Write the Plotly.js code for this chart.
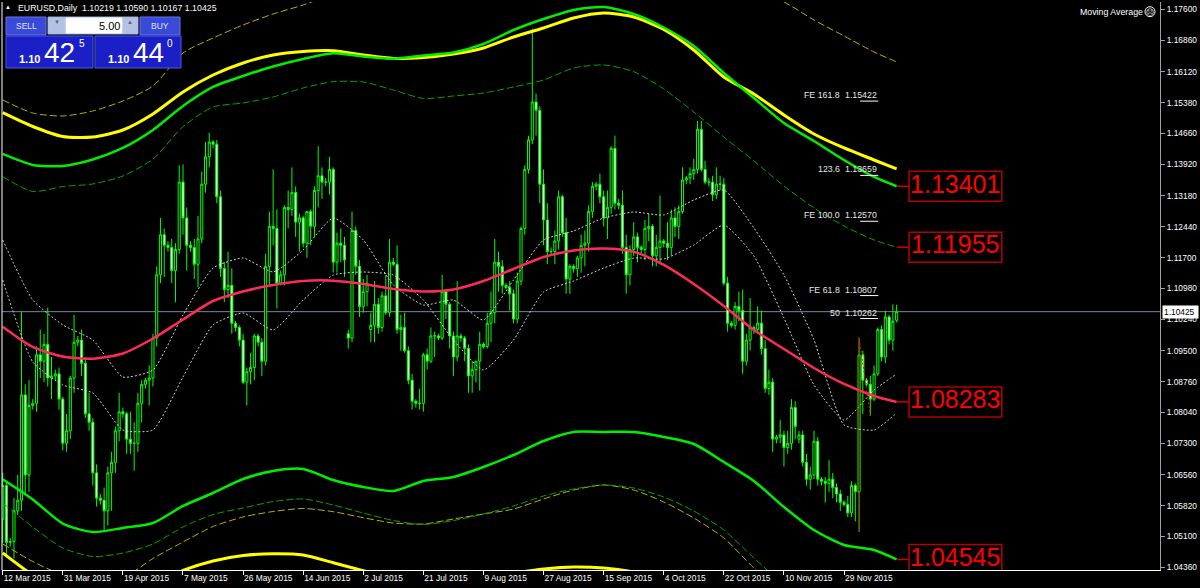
<!DOCTYPE html>
<html><head><meta charset="utf-8">
<script src="https://cdn.plot.ly/plotly-3.0.1.min.js"></script>
<style>html,body{margin:0;padding:0;background:#000;}#chart{width:1200px;height:588px;}</style>
</head><body><div id="chart"></div>
<script>
// ---------------- DATA ----------------
const symbolTitle = "EURUSD,Daily";
const headerOHLC = [1.10219, 1.10590, 1.10167, 1.10425];
const lastPrice = 1.10425;
const tickBars = [0,16,32,48,64,80,96,112,128,144,160,176,192,208,224];
const tickLabels = ["12 Mar 2015","31 Mar 2015","19 Apr 2015","7 May 2015","26 May 2015","14 Jun 2015","2 Jul 2015","21 Jul 2015","9 Aug 2015","27 Aug 2015","15 Sep 2015","4 Oct 2015","22 Oct 2015","10 Nov 2015","29 Nov 2015"];
const priceTicks = [1.17600,1.16860,1.16120,1.15380,1.14660,1.13920,1.13180,1.12440,1.11700,1.10980,1.10240,1.09500,1.08760,1.08040,1.07300,1.06560,1.05820,1.05100,1.04360];

const openP = [
1.0550,1.0630,1.0495,1.0497,1.0570,1.0595,1.0845,1.0655,1.0820,1.0825,
1.0940,1.0925,1.0965,1.0885,1.0890,1.0895,1.0835,1.0730,1.0760,1.0885,
1.0970,1.0975,1.0920,1.0800,1.0780,1.0660,1.0600,1.0595,1.0570,1.0660,
1.0685,1.0760,1.0805,1.0800,1.0740,1.0730,1.0730,1.0825,1.0870,1.0880,
1.0885,1.0980,1.1130,1.1225,1.1200,1.1195,1.1140,1.1190,1.1350,1.1265,
1.1200,1.1195,1.1155,1.1215,1.1345,1.1410,1.1445,1.1440,1.1315,1.1145,
1.1095,1.1105,1.1015,1.1005,1.0975,1.0875,1.0900,1.0910,1.0985,1.0970,
1.0925,1.1150,1.1245,1.1240,1.1110,1.1130,1.1290,1.1285,1.1325,1.1255,
1.1265,1.1205,1.1280,1.1245,1.1330,1.1365,1.1350,1.1350,1.1380,1.1160,
1.1205,1.1200,1.0990,1.0980,1.1235,1.1150,1.1055,1.1090,1.1000,1.1010,
1.1060,1.1005,1.1080,1.1040,1.1160,1.1155,1.1000,1.1005,1.0950,1.0880,
1.0830,1.0825,1.0825,1.0940,1.0925,1.0985,1.0985,1.0980,1.1090,1.1060,
1.0985,1.0935,1.0985,1.0980,1.0955,1.0890,1.0905,1.0925,1.0965,1.0960,
1.1015,1.1040,1.1160,1.1150,1.1105,1.1100,1.1085,1.1025,1.1115,1.1240,
1.1380,1.1450,1.1540,1.1520,1.1345,1.1260,1.1185,1.1185,1.1210,1.1315,
1.1230,1.1120,1.1150,1.1145,1.1170,1.1200,1.1205,1.1280,1.1340,1.1345,
1.1315,1.1265,1.1290,1.1430,1.1300,1.1295,1.1195,1.1130,1.1190,1.1220,
1.1195,1.1190,1.1240,1.1245,1.1175,1.1195,1.1210,1.1205,1.1195,1.1265,
1.1245,1.1280,1.1355,1.1360,1.1370,1.1380,1.1475,1.1380,1.1350,1.1350,
1.1320,1.1345,1.1345,1.1110,1.1015,1.1010,1.1055,1.1045,1.0925,1.0975,
1.1005,1.1000,1.1015,1.0955,1.0860,1.0875,1.0740,1.0745,1.0750,1.0720,
1.0730,1.0815,1.0740,1.0750,1.0685,1.0645,1.0655,1.0735,1.0645,1.0640,
1.0635,1.0645,1.0625,1.0610,1.0590,1.0585,1.0565,1.0630,1.0615,1.0940,
1.0880,1.0870,1.0835,1.0895,1.1000,1.0935,1.1030,1.0975,1.10219];
const highP = [
1.0660,1.0640,1.0505,1.0600,1.0655,1.1043,1.0870,1.0880,1.0835,1.0960,
1.1000,1.0990,1.1052,1.0935,1.0905,1.0910,1.0840,1.0800,1.0890,1.1035,
1.0985,1.1000,1.0935,1.0850,1.0790,1.0680,1.0610,1.0625,1.0675,1.0710,
1.0770,1.0850,1.0815,1.0805,1.0805,1.0780,1.0850,1.0880,1.0885,1.0915,
1.0990,1.1150,1.1265,1.1240,1.1210,1.1215,1.1205,1.1390,1.1392,1.1290,
1.1210,1.1215,1.1270,1.1375,1.1445,1.1467,1.1450,1.1450,1.1330,1.1160,
1.1185,1.1145,1.1020,1.1010,1.0990,1.0910,1.0945,1.0990,1.0990,1.0980,
1.1180,1.1280,1.1380,1.1285,1.1140,1.1295,1.1330,1.1385,1.1340,1.1275,
1.1270,1.1280,1.1285,1.1340,1.1435,1.1385,1.1360,1.1410,1.1385,1.1230,
1.1240,1.1220,1.1000,1.1280,1.1245,1.1165,1.1120,1.1130,1.1040,1.1115,
1.1075,1.1090,1.1130,1.1215,1.1170,1.1200,1.1035,1.1040,1.0960,1.0895,
1.0835,1.0860,1.0945,1.0955,1.1005,1.0995,1.0990,1.1130,1.1095,1.1065,
1.0995,1.1115,1.0990,1.0985,1.0965,1.0925,1.0925,1.0995,1.0970,1.1040,
1.1090,1.1215,1.1185,1.1165,1.1110,1.1115,1.1095,1.1135,1.1245,1.1390,
1.1460,1.1714,1.1560,1.1530,1.1380,1.1300,1.1195,1.1235,1.1330,1.1320,
1.1265,1.1155,1.1155,1.1175,1.1225,1.1235,1.1295,1.1350,1.1350,1.1370,
1.1330,1.1330,1.1435,1.1460,1.1310,1.1330,1.1225,1.1200,1.1255,1.1230,
1.1200,1.1260,1.1275,1.1250,1.1225,1.1318,1.1215,1.1255,1.1285,1.1290,
1.1295,1.1385,1.1365,1.1385,1.1405,1.1495,1.1495,1.1400,1.1360,1.1365,
1.1385,1.1365,1.1360,1.1125,1.1020,1.1065,1.1090,1.1095,1.0990,1.1075,
1.1010,1.1055,1.1045,1.0975,1.0905,1.0885,1.0750,1.0785,1.0760,1.0760,
1.0835,1.0830,1.0760,1.0760,1.0705,1.0675,1.0760,1.0745,1.0650,1.0650,
1.0690,1.0660,1.0635,1.0620,1.0595,1.0605,1.0640,1.0635,1.0981,1.0950,
1.0885,1.0890,1.0915,1.1005,1.1010,1.1045,1.1035,1.1060,1.10590];
const lowP = [
1.0494,1.0462,1.0485,1.0457,1.0560,1.0570,1.0610,1.0615,1.0810,1.0805,
1.0885,1.0875,1.0865,1.0835,1.0880,1.0810,1.0713,1.0710,1.0740,1.0850,
1.0960,1.0890,1.0790,1.0760,1.0630,1.0580,1.0585,1.0521,1.0535,1.0570,
1.0660,1.0735,1.0790,1.0705,1.0705,1.0665,1.0710,1.0780,1.0860,1.0820,
1.0865,1.0960,1.1110,1.1125,1.1185,1.1110,1.1065,1.1180,1.1225,1.1140,
1.1185,1.1120,1.1100,1.1205,1.1325,1.1385,1.1430,1.1300,1.1125,1.1065,
1.1075,1.0990,1.0995,1.0960,1.0870,1.0820,1.0870,1.0880,1.0960,1.0890,
1.0915,1.1105,1.1200,1.1050,1.1105,1.1105,1.1240,1.1270,1.1220,1.1185,
1.1195,1.1170,1.1200,1.1220,1.1290,1.1310,1.1340,1.1320,1.1135,1.1135,
1.1160,1.1125,1.0955,1.0970,1.1130,1.1030,1.1040,1.1055,1.0970,1.0970,
1.0990,1.0995,1.1035,1.1030,1.1150,1.0990,1.0950,1.0945,1.0870,1.0810,
1.0815,1.0810,1.0805,1.0905,1.0920,1.0935,1.0975,1.0975,1.1025,1.0955,
1.0890,1.0925,1.0970,1.0925,1.0850,1.0850,1.0875,1.0855,1.0955,1.0955,
1.0970,1.1015,1.1090,1.1085,1.1095,1.1045,1.1015,1.1015,1.1105,1.1225,
1.1370,1.1440,1.1460,1.1300,1.1200,1.1155,1.1175,1.1155,1.1190,1.1220,
1.1085,1.1085,1.1135,1.1125,1.1135,1.1150,1.1185,1.1265,1.1330,1.1300,
1.1245,1.1215,1.1275,1.1285,1.1285,1.1180,1.1085,1.1105,1.1175,1.1160,
1.1180,1.1165,1.1210,1.1150,1.1150,1.1155,1.1195,1.1165,1.1175,1.1220,
1.1215,1.1275,1.1345,1.1345,1.1355,1.1370,1.1375,1.1345,1.1340,1.1305,
1.1310,1.1330,1.1105,1.0995,1.1005,1.1000,1.1020,1.0895,1.0915,1.0950,
1.0990,1.0990,1.0940,1.0850,1.0845,1.0710,1.0730,1.0730,1.0675,1.0705,
1.0715,1.0740,1.0730,1.0675,1.0630,1.0620,1.0645,1.0630,1.0630,1.0590,
1.0615,1.0600,1.0590,1.0570,1.0580,1.0555,1.0555,1.0545,1.0520,1.0800,
1.0865,1.0795,1.0830,1.0890,1.0925,1.0920,1.0965,1.0950,1.10167];
const closeP = [
1.0630,1.0495,1.0497,1.0570,1.0595,1.0845,1.0655,1.0820,1.0825,1.0940,
1.0925,1.0965,1.0885,1.0890,1.0895,1.0835,1.0730,1.0760,1.0885,1.0970,
1.0975,1.0920,1.0800,1.0780,1.0660,1.0600,1.0595,1.0570,1.0660,1.0685,
1.0760,1.0805,1.0800,1.0740,1.0730,1.0730,1.0825,1.0870,1.0880,1.0885,
1.0980,1.1130,1.1225,1.1200,1.1195,1.1140,1.1190,1.1350,1.1265,1.1200,
1.1195,1.1155,1.1215,1.1345,1.1410,1.1445,1.1440,1.1315,1.1145,1.1095,
1.1105,1.1015,1.1005,1.0975,1.0875,1.0900,1.0910,1.0985,1.0970,1.0925,
1.1150,1.1245,1.1240,1.1110,1.1130,1.1290,1.1285,1.1325,1.1255,1.1265,
1.1205,1.1280,1.1245,1.1330,1.1365,1.1350,1.1350,1.1380,1.1160,1.1205,
1.1200,1.1165,1.0980,1.1235,1.1150,1.1055,1.1090,1.1110,1.1010,1.1060,
1.1005,1.1080,1.1040,1.1160,1.1155,1.1000,1.1005,1.0950,1.0880,1.0830,
1.0825,1.0825,1.0940,1.0925,1.0985,1.0985,1.0980,1.1090,1.1060,1.0985,
1.0935,1.0985,1.0980,1.0955,1.0890,1.0905,1.0925,1.0965,1.0960,1.1015,
1.1040,1.1160,1.1150,1.1105,1.1100,1.1085,1.1025,1.1115,1.1240,1.1380,
1.1450,1.1540,1.1520,1.1345,1.1260,1.1185,1.1185,1.1210,1.1315,1.1230,
1.1120,1.1150,1.1145,1.1170,1.1200,1.1205,1.1280,1.1340,1.1345,1.1315,
1.1265,1.1290,1.1430,1.1300,1.1295,1.1195,1.1130,1.1190,1.1220,1.1195,
1.1190,1.1240,1.1245,1.1175,1.1195,1.1210,1.1205,1.1195,1.1265,1.1245,
1.1280,1.1355,1.1360,1.1370,1.1380,1.1475,1.1380,1.1350,1.1350,1.1320,
1.1345,1.1345,1.1110,1.1015,1.1010,1.1055,1.1045,1.0925,1.0975,1.1005,
1.1000,1.1015,1.0955,1.0860,1.0875,1.0740,1.0745,1.0750,1.0720,1.0730,
1.0815,1.0770,1.0750,1.0685,1.0645,1.0655,1.0735,1.0645,1.0640,1.0635,
1.0645,1.0625,1.0610,1.0590,1.0585,1.0565,1.0630,1.0615,1.0940,1.0880,
1.0870,1.0835,1.0895,1.1000,1.0935,1.1030,1.0975,1.1020,1.10425];

// indicator lines sampled every 8 bars (plus last bar)
const maBars = [0,8,16,24,32,40,48,56,64,72,80,88,96,104,112,120,128,136,144,152,160,168,176,184,192,200,208,216,224,232,238];
const yellowUpper = [1.15147,1.14819,1.14582,1.14570,1.14736,1.15116,1.15638,1.16041,1.16326,1.16516,1.16599,1.16618,1.16516,1.16433,1.16457,1.16540,1.16682,1.16943,1.17157,1.17394,1.17513,1.17418,1.17121,1.16635,1.15994,1.15590,1.15092,1.14641,1.14309,1.14024,1.13811];
const greenUpper = [1.14167,1.13906,1.13882,1.14036,1.14309,1.14736,1.15306,1.15757,1.16018,1.16243,1.16421,1.16556,1.16480,1.16426,1.16504,1.16575,1.16777,1.17109,1.17370,1.17584,1.17655,1.17489,1.17168,1.16729,1.16089,1.15495,1.14902,1.14475,1.14024,1.13621,1.13401];
const greenDashUpper = [1.13628,1.13277,1.13395,1.13455,1.13645,1.14048,1.14814,1.15282,1.15377,1.15519,1.15733,1.15882,1.15875,1.15685,1.15484,1.15543,1.15614,1.15757,1.15923,1.16207,1.16279,1.16120,1.15709,1.15163,1.14570,1.14001,1.13407,1.12885,1.12458,1.12126,1.11955];
const yellowDashUpper = [1.15448,1.15139,1.15068,1.15187,1.15424,1.15780,1.16563,1.16919,1.17228,1.17489,1.17702,1.17963,1.18201,1.18343,1.18414,1.18462,1.18580,1.18723,1.18889,1.19008,1.19055,1.19008,1.18889,1.18652,1.18343,1.18058,1.17774,1.17346,1.16967,1.16587,1.16350];
const redMA = [1.10068,1.09587,1.09361,1.09309,1.09432,1.09788,1.10239,1.10678,1.10904,1.11058,1.11153,1.11160,1.11082,1.10963,1.10904,1.10951,1.11153,1.11438,1.11722,1.11877,1.11924,1.11848,1.11533,1.11082,1.10560,1.09990,1.09539,1.09088,1.08709,1.08424,1.08283];
const greenLower = [1.06447,1.05968,1.05398,1.05197,1.05292,1.05410,1.05814,1.06122,1.06454,1.06644,1.06692,1.06431,1.06265,1.06170,1.06407,1.06502,1.06739,1.07024,1.07356,1.07570,1.07570,1.07570,1.07451,1.07285,1.06858,1.06407,1.05790,1.05244,1.04888,1.04769,1.04545];
const greenDashLower = [1.05885,1.05315,1.04817,1.04615,1.04698,1.04912,1.05315,1.05612,1.05766,1.05920,1.05980,1.05837,1.05647,1.05469,1.05375,1.05469,1.05624,1.05814,1.06051,1.06217,1.06312,1.06241,1.06027,1.05695,1.05244,1.04580,1.03939,1.03346,1.02871,1.02515,1.02278];
const yellowDashLower = [1.04912,1.04497,1.04176,1.04010,1.04105,1.04568,1.04959,1.05327,1.05553,1.05683,1.05754,1.05678,1.05536,1.05410,1.05387,1.05505,1.05624,1.05742,1.05980,1.06193,1.06312,1.06193,1.05909,1.05529,1.05054,1.04342,1.03702,1.03108,1.02634,1.02278,1.02021];
const yellowLower = [1.04698,1.04176,1.03820,1.03631,1.03702,1.03939,1.04283,1.04509,1.04639,1.04679,1.04651,1.04468,1.04278,1.04105,1.04058,1.04105,1.04153,1.04224,1.04319,1.04366,1.04342,1.04247,1.04058,1.03702,1.03346,1.02990,1.02634,1.02278,1.02021,1.01803,1.01685];
const dottedA = [1.12126,1.10702,1.10109,1.09753,1.08875,1.09041,1.10346,1.11461,1.11699,1.11366,1.11889,1.12648,1.12126,1.11058,1.10583,1.10702,1.10227,1.11177,1.12126,1.12339,1.12648,1.12790,1.12719,1.13075,1.13312,1.12411,1.11295,1.09753,1.07736,1.07617,1.08021];
const dottedB = [1.11177,1.09231,1.08685,1.08495,1.07617,1.07617,1.08875,1.10109,1.10394,1.09990,1.10702,1.11295,1.11366,1.11295,1.10702,1.09753,1.09041,1.09753,1.10892,1.11153,1.11461,1.11699,1.11675,1.12007,1.12482,1.11746,1.10275,1.08685,1.07854,1.08566,1.08946];

// Fibonacci expansion
const fiboBars = [228, 228, 231];
const fiboPrices = [1.05198, 1.09813, 1.07955];
const feLabels = ["FE 161.8", "123.6", "FE 100.0", "FE 61.8", "50"];
const fePrices = [1.15422, 1.13659, 1.12570, 1.10807, 1.10262];
// price labels at line ends
const labelValues = [1.13401, 1.11955, 1.08283, 1.04545];

// one-click panel
const lotSize = "5.00";
const sellQuote = ["1.10", "42", "5"];
const buyQuote = ["1.10", "44", "0"];

// ---------------- LAYOUT HELPERS ----------------
const W=1200,H=588,ML=2,MR=40,MT=2,MB=18;
const PW=W-ML-MR, PH=H-MT-MB;
const px=x=>(x-ML)/PW, py=y=>1-(y-MT)/PH;
const FONT='Liberation Sans, Arial, sans-serif';
const bars = openP.map((_,i)=>i);
const pxPerPrice = PH/(1.17773-1.04295);

function rect(x0,y0,x1,y1,fill,line){return {type:'rect',xref:'paper',yref:'paper',x0:px(x0),x1:px(x1),y0:py(y1),y1:py(y0),fillcolor:fill,line:{color:line||fill,width:1},layer:'above'};}
function txt(x,y,t,size,color,anchor,extra){return Object.assign({xref:'paper',yref:'paper',x:px(x),y:py(y),text:t,showarrow:false,xanchor:anchor||'left',yanchor:'middle',borderpad:0,font:{size:size,color:color,family:FONT}},extra||{});}

function line(y,color,width,dash,smooth){
  return {type:'scatter',mode:'lines',x:maBars,y:y,hoverinfo:'skip',
    line:{color:color,width:width,dash:dash||'solid',shape:'spline',smoothing:smooth||0.7}};
}

const traces = [
  {type:'candlestick',x:bars,open:openP,high:highP,low:lowP,close:closeP,
   whiskerwidth:0,hoverinfo:'skip',
   increasing:{line:{color:'#00ff00',width:1},fillcolor:'#000000'},
   decreasing:{line:{color:'#00ff00',width:1},fillcolor:'#ffffff'}},
  line(dottedA,'#d0d0d0',1,'2px,2px',0.5),
  line(dottedB,'#d0d0d0',1,'2px,2px',0.5),
  line(yellowDashUpper,'#b4b400',1,'7px,3px'),
  line(greenDashUpper,'#00a800',1,'7px,3px'),
  line(yellowDashLower,'#b4b400',1,'7px,3px'),
  line(greenDashLower,'#00a800',1,'7px,3px'),
  line(yellowUpper,'#ffff00',3),
  line(greenUpper,'#00ee00',2.5),
  line(yellowLower,'#ffff00',3),
  line(greenLower,'#00ee00',2.5),
  line(redMA,'#ff2a5a',2.5),
  {type:'scatter',mode:'lines',x:fiboBars,y:fiboPrices,hoverinfo:'skip',line:{color:'#ff0000',width:1,dash:'2px,2px'}},
  {type:'scatter',mode:'text',x:labelValues.map(()=>253.6),y:labelValues,text:labelValues.map(v=>v.toFixed(5)),
   textposition:'middle center',cliponaxis:true,hoverinfo:'skip',
   textfont:{family:FONT,size:25,color:'#ff0000'}}
];

const shapes = [];
shapes.push({type:'line',xref:'paper',yref:'y',x0:0,x1:1,y0:lastPrice,y1:lastPrice,line:{color:'#778899',width:1},layer:'below'});
shapes.push({type:'line',xref:'paper',yref:'paper',x0:0,x1:0,y0:0,y1:1,line:{color:'#ffffff',width:1}});
const halfBox = 15/pxPerPrice;
labelValues.forEach(v=>{
  shapes.push({type:'rect',xref:'x',yref:'y',x0:241.3,x1:266.0,y0:v-halfBox,y1:v+halfBox,fillcolor:'rgba(0,0,0,0)',line:{color:'#b40000',width:1.5},layer:'above'});
  shapes.push({type:'line',xref:'x',yref:'y',x0:238,x1:241.3,y0:v,y1:v,line:{color:'#d00000',width:1.5},layer:'above'});
});
fePrices.forEach(v=>{
  shapes.push({type:'line',xref:'x',yref:'y',x0:228.3,x1:233.1,y0:v,y1:v,line:{color:'#ffffff',width:1},layer:'above'});
});
shapes.push(rect(6,17,46,35,'#3a4ad8','#6474f2'));
shapes.push(rect(48,17,138,34,'#c4cfe6','#98a8d4'));
shapes.push(rect(66,18,122,33,'#ffffff','#ffffff'));
shapes.push(rect(49,18,65,33,'#b3c1e2','#b3c1e2'));
shapes.push(rect(123,18,137,33,'#b3c1e2','#b3c1e2'));
shapes.push(rect(140,17,180,35,'#3a4ad8','#6474f2'));
shapes.push(rect(6,36,93,68,'#1b20c6','#4c56ea'));
shapes.push(rect(95,36,181,68,'#1b20c6','#4c56ea'));
shapes.push({type:'circle',xref:'paper',yref:'paper',x0:px(1145),x1:px(1155),y0:py(16.7),y1:py(6.7),line:{color:'#ffffff',width:1},layer:'above'});

const annotations = [];
annotations.push(txt(4,7.5,'▲',6,'#ffffff','left'));
annotations.push(txt(16.5,8.3,symbolTitle+'  '+headerOHLC.map(v=>v.toFixed(5)).join(' '),8.8,'#ffffff','left'));
annotations.push(txt(1143.5,12,'Moving Average',8.8,'#ffffff','right'));
annotations.push(txt(1150,12.2,'☹',8,'#ffffff','center',{font:{size:8,color:'#ffffff',family:'DejaVu Sans'}}));
annotations.push(txt(26,26,'SELL',8.5,'#dde6ff','center'));
annotations.push(txt(160,26,'BUY',8.5,'#dde6ff','center'));
annotations.push(txt(121,25.8,lotSize,11,'#000000','right'));
annotations.push(txt(57,22.5,'▼',6,'#56627e','center'));
annotations.push(txt(130,22.5,'▲',6,'#56627e','center'));
annotations.push(txt(18,58.6,sellQuote[0],11,'#ffffff','left',{font:{size:11,color:'#ffffff',family:FONT,weight:'bold'}}));
annotations.push(txt(42.5,52.2,sellQuote[1],28,'#ffffff','left'));
annotations.push(txt(77.5,43.5,sellQuote[2],10,'#ffffff','left'));
annotations.push(txt(106.5,58.6,buyQuote[0],11,'#ffffff','left',{font:{size:11,color:'#ffffff',family:FONT,weight:'bold'}}));
annotations.push(txt(132,52.2,buyQuote[1],28,'#ffffff','left'));
annotations.push(txt(166.5,43.5,buyQuote[2],10,'#ffffff','left'));
feLabels.forEach((t,i)=>{
  annotations.push({xref:'x',yref:'y',x:223.2,y:fePrices[i],text:t,showarrow:false,xanchor:'right',yanchor:'bottom',borderpad:0,font:{size:8.8,color:'#e6e6e6',family:FONT}});
  annotations.push({xref:'x',yref:'y',x:233.1,y:fePrices[i],text:fePrices[i].toFixed(5),showarrow:false,xanchor:'right',yanchor:'bottom',borderpad:0,font:{size:8.8,color:'#e6e6e6',family:FONT}});
});
annotations.push({xref:'paper',yref:'y',x:px(1161.5),y:lastPrice,text:lastPrice.toFixed(5)+' ',showarrow:false,xanchor:'left',yanchor:'middle',bgcolor:'#ffffff',borderpad:1,font:{size:8.4,color:'#000000',family:FONT}});

const layout = {
  width:W,height:H,margin:{l:ML,r:MR,t:MT,b:MB,pad:0},
  paper_bgcolor:'#000000',plot_bgcolor:'#000000',
  showlegend:false,hovermode:false,boxgap:0.2,
  font:{family:FONT,color:'#ffffff',size:8.4},
  xaxis:{range:[-0.186,308.12],rangeslider:{visible:false},showgrid:false,zeroline:false,
    tickmode:'array',tickvals:tickBars,ticktext:tickLabels,ticks:'outside',ticklen:4,tickcolor:'#ffffff',
    ticklabelposition:'outside right',showline:true,linecolor:'#ffffff',linewidth:1,
    tickfont:{size:8.4,color:'#ffffff',family:FONT}},
  yaxis:{range:[1.04295,1.17773],side:'right',showgrid:false,zeroline:false,
    tickmode:'array',tickvals:priceTicks,ticktext:priceTicks.map(v=>v.toFixed(5)),
    ticks:'outside',ticklen:4,tickcolor:'#a0a0a0',showline:true,linecolor:'#a0a0a0',linewidth:1,
    tickfont:{size:8.4,color:'#ffffff',family:FONT}},
  shapes:shapes,annotations:annotations
};
Plotly.newPlot('chart',traces,layout,{staticPlot:true,displayModeBar:false});
</script>
</body></html>
